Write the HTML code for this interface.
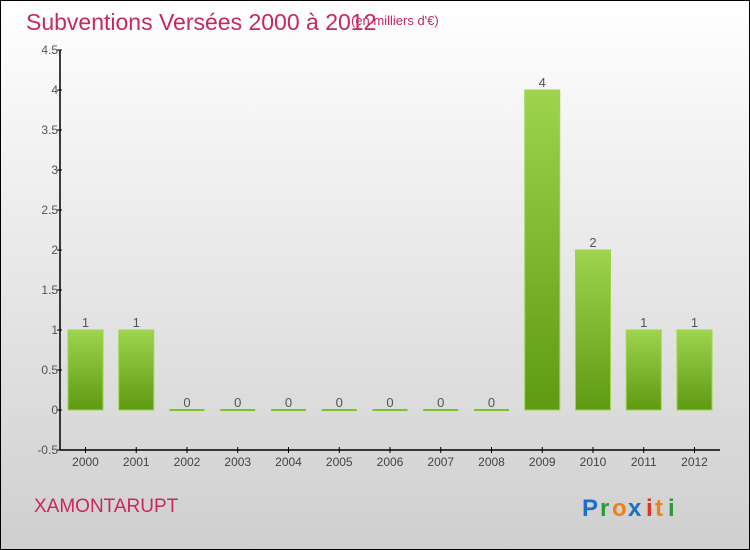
<!DOCTYPE html>
<html><head><meta charset="utf-8"><style>
html,body{margin:0;padding:0}
body{width:750px;height:550px;overflow:hidden;font-family:"Liberation Sans",sans-serif}
#wrap{position:absolute;left:0;top:0;width:748px;height:548px;border:1px solid #000;background:linear-gradient(#ffffff,#cfcfcf)}
</style></head><body>
<div id="wrap">
<svg id="svg" width="750" height="550" style="position:absolute;left:-1px;top:-1px">
<text x="26" y="30" font-size="23" fill="#c8285a">Subventions Versées 2000 à 2012</text>
<text x="351" y="25" font-size="13" fill="#c8285a">(en milliers d'€)</text>
<text x="34" y="512" font-size="19" fill="#c8285a">XAMONTARUPT</text>
<g font-size="24" font-weight="bold">
<text x="582" y="516" fill="#1a6fc8">P</text><text x="600" y="516" fill="#2a9a3a">r</text><text x="612" y="516" fill="#f08010">o</text><text x="628" y="516" fill="#1a6fc8">x</text><text x="646" y="516" fill="#e03020">i</text><text x="655" y="516" fill="#f08010">t</text><text x="668" y="516" fill="#2a9a3a">i</text>
</g>
<defs><linearGradient id="bg" x1="0" y1="0" x2="0" y2="1"><stop offset="0" stop-color="#9ed44e"/><stop offset="1" stop-color="#5e9a12"/></linearGradient></defs>
<g id="plot"></g>
</svg>
</div>
<script>
const categories=["2000","2001","2002","2003","2004","2005","2006","2007","2008","2009","2010","2011","2012"];
const values=[1,1,0,0,0,0,0,0,0,4,2,1,1];
const yTicks=[-0.5,0,0.5,1,1.5,2,2.5,3,3.5,4,4.5];
const yTickLabels=["-0.5","0","0.5","1","1.5","2","2.5","3","3.5","4","4.5"];
const NS="http://www.w3.org/2000/svg";
const g=document.getElementById("plot");
const x0=60,x1=720,yMin=-0.5,yMax=4.5,yTop=50,yBot=450;
function y(v){return yBot-(v-yMin)/(yMax-yMin)*(yBot-yTop);}
function xc(i){return 85.5+i*50.75;}
function mk(tag,attrs){const e=document.createElementNS(NS,tag);for(const k in attrs)e.setAttribute(k,attrs[k]);g.appendChild(e);return e;}
let a=mk("line",{x1:x0,y1:yTop,x2:x0,y2:yBot,stroke:"#000","stroke-width":1.5});


a=mk("line",{x1:x0,y1:yBot,x2:x1,y2:yBot,stroke:"#000","stroke-width":1.5});


yTicks.forEach((t,i)=>{
 const l=mk("line",{x1:x0-3,y1:y(t),x2:x0+2,y2:y(t),stroke:"#000"});
 
 
 const tx=mk("text",{x:x0-2,y:y(t)+4,"font-size":12,fill:"#555","text-anchor":"end"});
 tx.textContent=yTickLabels[i];
 
 
});
categories.forEach((c,i)=>{
 const cx=xc(i),v=values[i];
 const t=mk("line",{x1:cx,y1:yBot-3,x2:cx,y2:yBot+3,stroke:"#000"});
 
 
 const lab=mk("text",{x:cx,y:yBot+16,"font-size":12,fill:"#444","text-anchor":"middle"});
 lab.textContent=c;
 
 
 const top=y(v),h=Math.max(y(0)-top,1);
 const b=mk("rect",{x:cx-17.5,y:v>0?top:y(0)-1,width:35,height:v>0?h:2,fill:v>0?"url(#bg)":"#7cc22a",stroke:v>0?"#9ed44e":"none","stroke-width":1});
 
 
 const vl=mk("text",{x:cx,y:(v>0?top:y(0))-3,"font-size":13,fill:"#555","text-anchor":"middle"});
 vl.textContent=String(v);
 
 
});
</script>
</body></html>
